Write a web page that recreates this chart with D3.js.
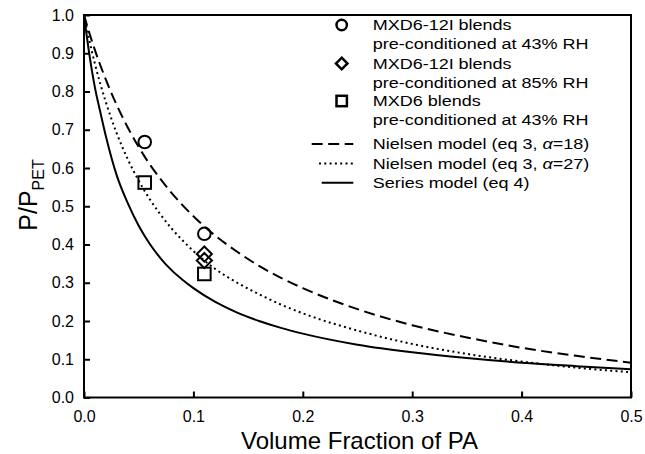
<!DOCTYPE html>
<html>
<head>
<meta charset="utf-8">
<script src="https://cdn.jsdelivr.net/npm/d3@7"></script>
<style>
  body { margin: 0; background: #fff; }
  text { font-family: "Liberation Sans", Arial, sans-serif; fill: #000; }
</style>
</head>
<body>
<svg id="chart" width="645" height="454"></svg>
<script>
// volume fraction of PA where the model curves were read
const phi = [0, 0.005, 0.01, 0.015, 0.02, 0.03, 0.04, 0.05, 0.06, 0.07, 0.08, 0.09, 0.1,
             0.12, 0.14, 0.16, 0.18, 0.2, 0.25, 0.3, 0.35, 0.4, 0.45, 0.5];
// Nielsen model, alpha = 18 (dashed)
const nielsen18 = [1, 0.952, 0.908, 0.868, 0.831, 0.764, 0.706, 0.655, 0.610, 0.571, 0.535, 0.503, 0.474,
                   0.423, 0.381, 0.344, 0.313, 0.286, 0.231, 0.189, 0.157, 0.130, 0.109, 0.091];
// Nielsen model, alpha = 27 (dotted)
const nielsen27 = [1, 0.932, 0.872, 0.819, 0.772, 0.690, 0.623, 0.567, 0.519, 0.478, 0.442, 0.411, 0.383,
                   0.336, 0.300, 0.270, 0.243, 0.220, 0.175, 0.140, 0.114, 0.094, 0.078, 0.066];
// Series model (solid)
const seriesModel = [1, 0.895, 0.81, 0.745, 0.683, 0.580, 0.508, 0.449, 0.402, 0.364, 0.333, 0.308, 0.286,
                     0.250, 0.222, 0.200, 0.182, 0.167, 0.138, 0.118, 0.103, 0.091, 0.082, 0.074];

// measured blends
const rh43Phi = [0.0555, 0.110];
const rh43Val = [0.668, 0.428];
const rh85Phi = [0.110, 0.110];
const rh85Val = [0.375, 0.358];
const mxd6Phi = [0.0555, 0.110];
const mxd6Val = [0.562, 0.323];

const xTicks = [0, 0.1, 0.2, 0.3, 0.4, 0.5];
const yTicks = [0, 0.1, 0.2, 0.3, 0.4, 0.5, 0.6, 0.7, 0.8, 0.9, 1.0];

const legendMarkerLabels = [
    ["MXD6-12I blends", "pre-conditioned at 43% RH"],
    ["MXD6-12I blends", "pre-conditioned at 85% RH"],
    ["MXD6 blends", "pre-conditioned at 43% RH"]
];
const legendLineLabels = [
    ["Nielsen model (eq 3, ", "\u03b1", "=18)"],
    ["Nielsen model (eq 3, ", "\u03b1", "=27)"],
    ["Series model (eq 4)", "", ""]
];

let svg = d3.select("#chart");
let plot = { left: 84, right: 631, top: 15, bottom: 397.5 };

let x = d3.scaleLinear().domain([0, 0.5]).range([plot.left, plot.right]);
let y = d3.scaleLinear().domain([0, 1]).range([plot.bottom, plot.top]);

// Axes (ticks point inward).
let xAxis = svg.append("g")
    .attr("transform", "translate(0," + plot.bottom + ")")
    .call(d3.axisBottom(x).tickValues(xTicks).tickSize(-6).tickPadding(13).tickFormat(d3.format(".1f")));
let yAxis = svg.append("g")
    .attr("transform", "translate(" + plot.left + ",0)")
    .call(d3.axisLeft(y).tickValues(yTicks).tickSize(-6).tickPadding(10).tickFormat(d3.format(".1f")));

[xAxis, yAxis].forEach(a => {
    a.select(".domain").remove();
    a.selectAll(".tick line").attr("stroke", "#000").attr("stroke-width", 2);
    a.selectAll(".tick text").attr("font-size", 16).attr("font-family", "Liberation Sans, Arial, sans-serif");
});

// Frame.
svg.append("rect")
    .attr("x", plot.left).attr("y", plot.top)
    .attr("width", plot.right - plot.left).attr("height", plot.bottom - plot.top)
    .attr("fill", "none").attr("stroke", "#000").attr("stroke-width", 2);

// Axis titles.
svg.append("text")
    .attr("x", (plot.left + plot.right) / 2 + 2).attr("y", 449)
    .attr("text-anchor", "middle").attr("font-size", 24)
    .text("Volume Fraction of PA");

let yTitle = svg.append("text")
    .attr("transform", "translate(37,195) rotate(-90)")
    .attr("text-anchor", "middle").attr("font-size", 25);
yTitle.append("tspan").text("P/P");
yTitle.append("tspan").attr("font-size", 16).attr("dy", 7).text("PET");

// Model curves.
let lineStyles = [
    { values: nielsen18, dash: "11,5.5" },
    { values: nielsen27, dash: "2,3.3" },
    { values: seriesModel, dash: null }
];
lineStyles.forEach(s => {
    let line = d3.line()
        .x((d, i) => x(phi[i]))
        .y(d => y(d))
        .curve(d3.curveMonotoneX);
    svg.append("path")
        .datum(s.values)
        .attr("d", line)
        .attr("fill", "none")
        .attr("stroke", "#000")
        .attr("stroke-width", 2)
        .attr("stroke-dasharray", s.dash);
});

// Marker shapes.
function drawMarker(g, kind, cx, cy, size, sw) {
    if (kind == "circle") {
        g.append("circle").attr("cx", cx).attr("cy", cy).attr("r", size)
            .attr("fill", "none").attr("stroke", "#000").attr("stroke-width", sw);
    } else if (kind == "square") {
        g.append("rect").attr("x", cx - size).attr("y", cy - size)
            .attr("width", size * 2).attr("height", size * 2)
            .attr("fill", "none").attr("stroke", "#000").attr("stroke-width", sw);
    } else {
        let d = size * 1.2;
        g.append("path")
            .attr("d", "M" + cx + "," + (cy - d) + "L" + (cx + d) + "," + cy + "L" + cx + "," + (cy + d) + "L" + (cx - d) + "," + cy + "Z")
            .attr("fill", "none").attr("stroke", "#000").attr("stroke-width", sw);
    }
}

let pointSets = [
    { kind: "circle", xs: rh43Phi, ys: rh43Val },
    { kind: "diamond", xs: rh85Phi, ys: rh85Val },
    { kind: "square", xs: mxd6Phi, ys: mxd6Val }
];
pointSets.forEach(s => {
    s.xs.forEach((v, i) => drawMarker(svg, s.kind, x(v), y(s.ys[i]), 6.3, 2));
});

// Legend.
let legend = svg.append("g");
let legendTextX = 372.7;
function legendText(str, ty) {
    return legend.append("text")
        .attr("transform", "translate(" + legendTextX + "," + ty + ") scale(1.2,1)")
        .attr("dy", "0.36em")
        .attr("font-size", 15)
        .text(str);
}
let markerRows = [25, 63.5, 101];
pointSets.forEach((s, i) => {
    let ty = markerRows[i];
    drawMarker(legend, s.kind, 341.7, ty, s.kind == "diamond" ? 4.8 : 5.2, 2.5);
    legendText(legendMarkerLabels[i][0], ty);
    legendText(legendMarkerLabels[i][1], ty + 19);
});

let lineRows = [144, 163.5, 182.7];
let lineStarts = [311.7, 319, 321.7];
lineStyles.forEach((s, i) => {
    let ty = lineRows[i];
    legend.append("line")
        .attr("x1", lineStarts[i]).attr("x2", 353.3)
        .attr("y1", ty).attr("y2", ty)
        .attr("stroke", "#000").attr("stroke-width", 2)
        .attr("stroke-dasharray", s.dash);
    let t = legendText(legendLineLabels[i][0], ty);
    if (legendLineLabels[i][1]) {
        t.append("tspan").attr("font-style", "italic").text(legendLineLabels[i][1]);
        t.append("tspan").text(legendLineLabels[i][2]);
    }
});
</script>
</body>
</html>
